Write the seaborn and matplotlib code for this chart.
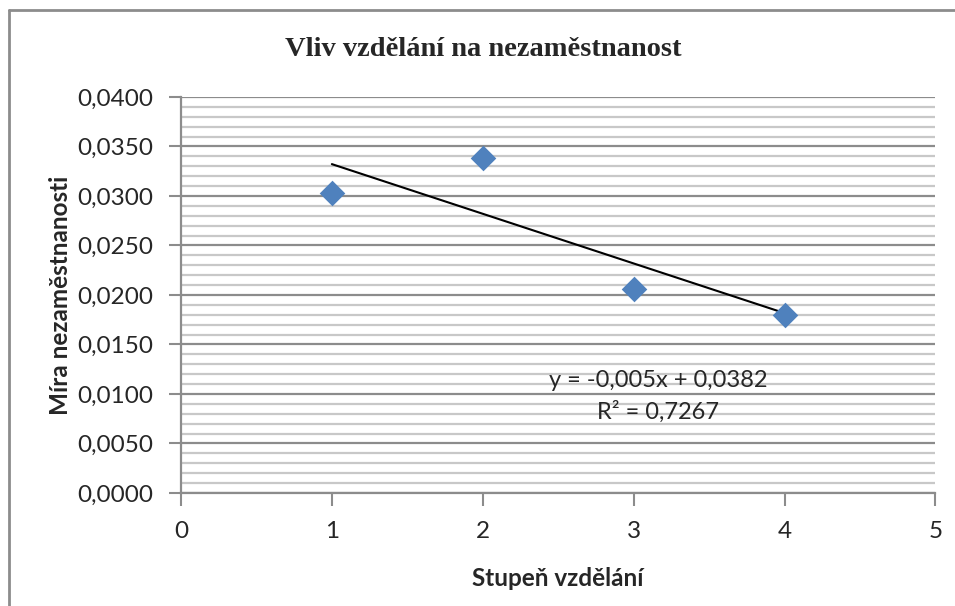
import numpy as np
import pandas as pd
import seaborn as sns
import matplotlib.pyplot as plt
from matplotlib.ticker import MultipleLocator, FuncFormatter
from matplotlib.lines import Line2D

# data
stupen = [1, 2, 3, 4]
mira = [0.0303, 0.033868, 0.0206, 0.0180]

title = "Vliv vzdělání na nezaměstnanost"
xlabel = "Stupeň vzdělání"
ylabel = "Míra nezaměstnanosti"

df = pd.DataFrame({"stupen": stupen, "mira": mira})

sns.set_style("white")
plt.rcParams["font.family"] = ["Lato", "DejaVu Sans"]

fig = plt.figure(figsize=(9.55, 6.06), dpi=100)
ax = fig.add_axes([0.1895, 0.1865, 0.790, 0.6535])

# grid: minor every 0.001, major every 0.005
ax.set_xlim(0, 5)
ax.set_ylim(0, 0.04)
ax.yaxis.set_major_locator(MultipleLocator(0.005))
ax.yaxis.set_minor_locator(MultipleLocator(0.001))
ax.xaxis.set_major_locator(MultipleLocator(1))
ax.grid(which="minor", axis="y", color="#c8c8c8", lw=1.6, zorder=0)
ax.grid(which="major", axis="y", color="#8c8c8c", lw=1.6, zorder=0)
ax.set_axisbelow(True)

# trendline
k, q = np.polyfit(stupen, mira, 1)
xs = np.array([min(stupen), max(stupen)])
ax.plot(xs, k * xs + q, color="black", lw=1.5, zorder=3)

sns.scatterplot(data=df, x="stupen", y="mira", marker="D", s=170,
                color="#4f81bd", edgecolor="#4f81bd", linewidth=0, ax=ax, zorder=4)

r2 = np.corrcoef(stupen, mira)[0, 1] ** 2
eq = "y = {:.3f}x + {:.4f}".format(k, q).replace(".", ",")
ax.text(3.163, 0.01141, eq, ha="center", va="center", fontsize=17)
ax.text(3.163, 0.00818, "R² = {:.4f}".format(r2).replace(".", ","),
        ha="center", va="center", fontsize=17)

ax.yaxis.set_major_formatter(FuncFormatter(lambda v, p: "{:.4f}".format(v).replace(".", ",")))
ax.tick_params(axis="both", which="major", direction="out", length=9, width=1.5,
               color="#8c8c8c", labelsize=17.5, left=True, bottom=True)
ax.tick_params(axis="y", which="major", pad=11)
ax.tick_params(axis="x", which="major", pad=11)
ax.tick_params(axis="y", which="minor", left=False)

for s in ["top", "right"]:
    ax.spines[s].set_visible(False)
for s in ["left", "bottom"]:
    ax.spines[s].set_color("#8c8c8c")
    ax.spines[s].set_linewidth(1.6)

ax.set_xlabel(xlabel, fontsize=17.5, fontweight="bold")
ax.set_ylabel(ylabel, fontsize=17.5, fontweight="bold")
ax.yaxis.set_label_coords(-0.1446, 0.5)
ax.xaxis.set_label_coords(0.5, -0.187)

fig.text(0.506, 0.918, title, ha="center", va="center", fontsize=20.5,
         fontweight="bold", family=["Liberation Serif", "DejaVu Serif"])

# chart area border (only top and left visible in the crop)
fig.add_artist(Line2D([9 / 955, 9 / 955], [0, 1 - 10 / 606], color="#8c8c8c", lw=2))
fig.add_artist(Line2D([9 / 955, 1], [1 - 10 / 606, 1 - 10 / 606], color="#8c8c8c", lw=2))

fig.savefig("out.png", dpi=100)
